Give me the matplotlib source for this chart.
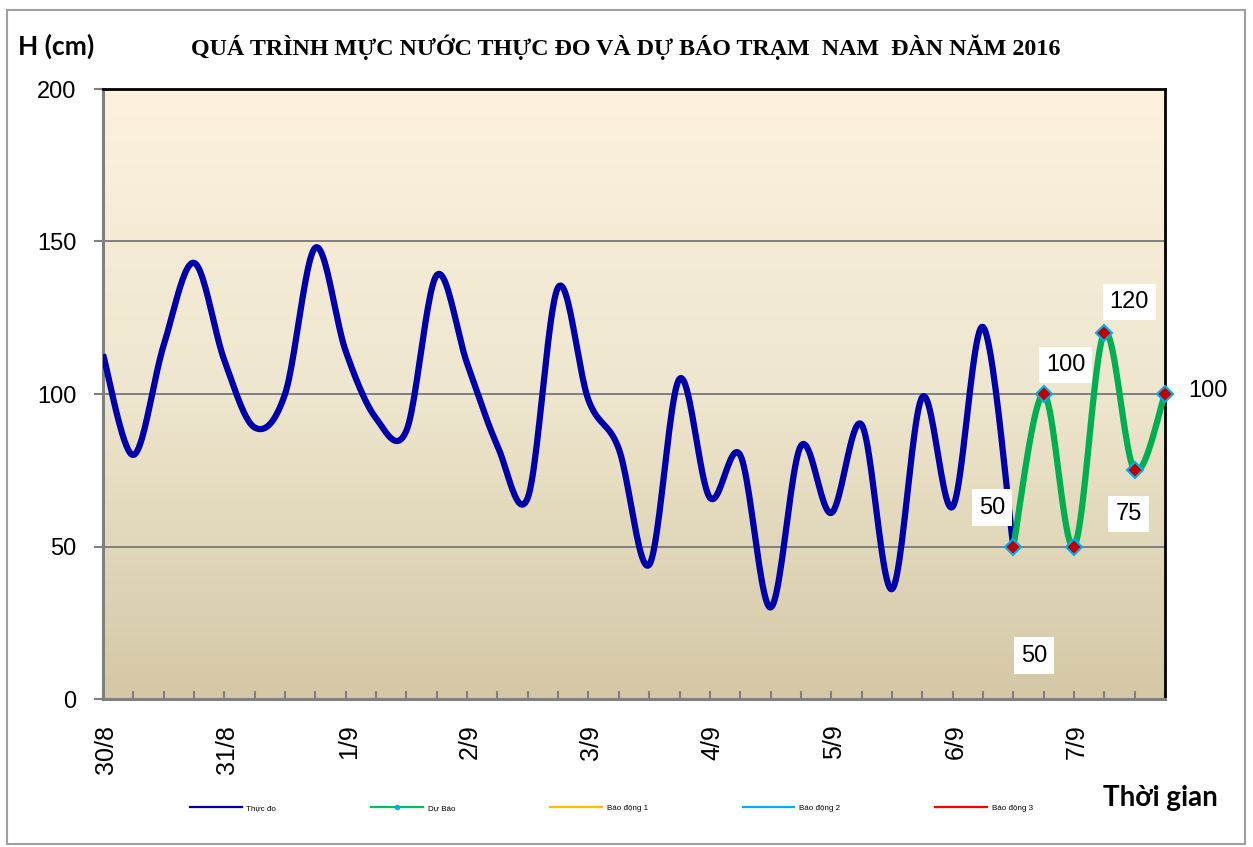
import numpy as np
import matplotlib
matplotlib.use("Agg")
import matplotlib.pyplot as plt
from matplotlib.lines import Line2D
from matplotlib.patches import Rectangle
import matplotlib.transforms as mtransforms

# muc nuoc thuc do (6 gio / diem)
thuc_do = [113, 80, 116, 143, 111, 89, 100, 148, 114, 92, 88, 139, 110, 83, 66,
           135, 98, 82, 44, 105, 66, 80, 30, 83, 61, 90, 36, 99, 63, 122, 50]
# du bao
du_bao = [50, 100, 50, 120, 75, 100]
du_bao_start = 30
n_points = 36
ngay = ['30/8', '31/8', '1/9', '2/9', '3/9', '4/9', '5/9', '6/9', '7/9']
nhan_du_bao = ['50', '100', '50', '120', '75', '100']
nhan_offset = [(-21, 39), (22, 29), (-40, -109), (25, 31), (-6, -44), (43, 3)]

W, H = 1253, 847


def smooth(xs, ys, n=24):
    # courbe lissee type Excel (Catmull-Rom)
    pts = np.column_stack([xs, ys]).astype(float)
    p = np.vstack([pts[0], pts, pts[-1]])
    out = []
    t = np.linspace(0, 1, n, endpoint=False)[:, None]
    for i in range(1, len(p) - 2):
        p0, p1, p2, p3 = p[i - 1], p[i], p[i + 1], p[i + 2]
        seg = 0.5 * (2 * p1 + (-p0 + p2) * t + (2 * p0 - 5 * p1 + 4 * p2 - p3) * t ** 2
                     + (-p0 + 3 * p1 - 3 * p2 + p3) * t ** 3)
        out.append(seg)
    out.append(p[-2][None])
    return np.vstack(out)


fig = plt.figure(figsize=(W / 100, H / 100), dpi=100)
ax = fig.add_axes([103 / W, 1 - 699 / H, (1165 - 103) / W, (699 - 89) / H])

# fond degrade
c_bas = np.array([212, 200, 165]) / 255
c_mil = np.array([238, 230, 206]) / 255
c_haut = np.array([254, 242, 221]) / 255
s = np.linspace(0, 1, 256)[:, None]
grad = np.where(s < 0.5, c_bas + (c_mil - c_bas) * (s / 0.5), c_mil + (c_haut - c_mil) * ((s - 0.5) / 0.5))
ax.imshow(grad[:, None, :], extent=[0, n_points - 1, 0, 200], origin='lower', aspect='auto', zorder=0)

for v in [50, 100, 150]:
    ax.axhline(v, color='#808080', lw=1.4, zorder=1)

x_td = np.arange(len(thuc_do))
c = smooth(x_td, thuc_do)
ax.plot(c[:, 0], c[:, 1], color='#0000AA', lw=4.5, solid_capstyle='butt', zorder=3)

x_db = np.arange(du_bao_start, du_bao_start + len(du_bao))
c = smooth(x_db, du_bao)
ax.plot(c[:, 0], c[:, 1], color='#00B050', lw=4.5, solid_capstyle='butt', zorder=4)
ax.plot(x_db, du_bao, ls='none', marker='D', ms=8, mfc='#C00000', mec='#00B0F0', mew=1.5, zorder=5, clip_on=False)

for xi, yi, lab, off in zip(x_db, du_bao, nhan_du_bao, nhan_offset):
    ax.annotate(lab, (xi, yi), xytext=off, textcoords='offset pixels', ha='center', va='center',
                fontsize=17, family='Liberation Sans', annotation_clip=False, zorder=6,
                bbox=dict(boxstyle='square,pad=0.3', fc='white', ec='none'))

ax.set_xlim(0, n_points - 1)
ax.set_ylim(0, 200)
ax.set_yticks([0, 50, 100, 150, 200])
ax.set_xticks(np.arange(0, n_points, 4))
ax.set_xticklabels(ngay, rotation=90)
ax.set_xticks(np.arange(n_points), minor=True)
ax.tick_params(axis='y', direction='out', length=6.5, width=1.5, color='#808080', pad=12.5,
               labelsize=17)
ax.tick_params(axis='x', which='both', direction='in', length=6, width=1.5, color='#808080',
               pad=18.5, labelsize=18)
for lab in ax.get_yticklabels() + ax.get_xticklabels():
    lab.set_family('Liberation Sans')
dx = mtransforms.ScaledTranslation(3 / 100, 0, fig.dpi_scale_trans)
for lab in ax.get_xticklabels():
    lab.set_transform(lab.get_transform() + dx)

ax.spines['left'].set_color('#808080')
ax.spines['bottom'].set_color('#808080')
ax.spines['left'].set_linewidth(2.2)
ax.spines['bottom'].set_linewidth(2.2)
ax.spines['top'].set_color('black')
ax.spines['right'].set_color('black')
ax.spines['top'].set_linewidth(2)
ax.spines['right'].set_linewidth(2)

fig.text(626 / W, 1 - 55 / H, 'QUÁ TRÌNH MỰC NƯỚC THỰC ĐO VÀ DỰ BÁO TRẠM  NAM  ĐÀN NĂM 2016',
         ha='center', va='baseline', fontsize=17.3, fontweight='bold', family='Liberation Serif')
fig.text(18 / W, 1 - 55 / H, 'H (cm)', ha='left', va='baseline', fontsize=19, fontweight='bold',
         family='Lato')
fig.text(1103 / W, 1 - 806 / H, 'Thời gian', ha='left', va='baseline', fontsize=20, fontweight='bold',
         family='Lato')

handles = [
    Line2D([], [], color='#0000AA', lw=1.6),
    Line2D([], [], color='#00C060', lw=1.6, marker='o', ms=3, mfc='#00B0F0', mec='#00B0F0', markevery=[1]),
    Line2D([], [], color='#FFC000', lw=1.6),
    Line2D([], [], color='#00B0F0', lw=1.6),
    Line2D([], [], color='#FF0000', lw=1.6),
]
labels = ['Thực đo', 'Dự Báo', 'Báo động 1', 'Báo động 2', 'Báo động 3']
fig.legend(handles, labels, loc='center left', bbox_to_anchor=(190 / W, 1 - 808 / H), ncol=5,
           frameon=False, borderpad=0, borderaxespad=0, handlelength=6.4, handletextpad=0.6,
           columnspacing=11.8, prop={'family': 'Liberation Sans', 'size': 5.8})

fig.patches.append(Rectangle((7 / W, 3 / H), (1245 - 7) / W, (844 - 10) / H, transform=fig.transFigure,
                             fill=False, ec='#A0A0A0', lw=1.5))

fig.savefig('out.png', dpi=100)
